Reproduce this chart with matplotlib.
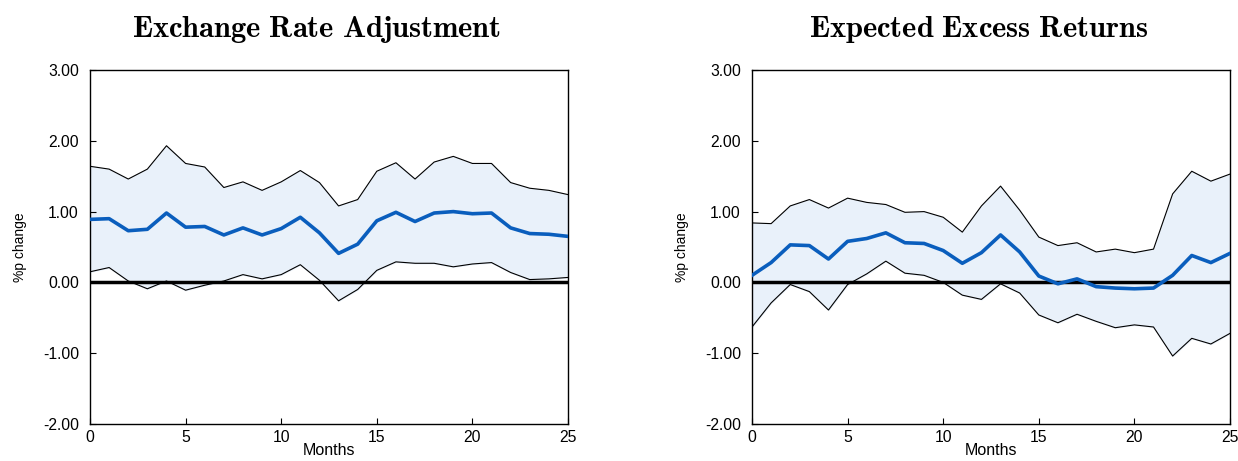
import numpy as np
import matplotlib.pyplot as plt

plt.rcParams['font.family'] = ['Liberation Sans', 'DejaVu Sans']
plt.rcParams['mathtext.fontset'] = 'cm'

months = np.arange(26)

# Exchange rate adjustment
er_mean = [0.89, 0.90, 0.73, 0.75, 0.98, 0.78, 0.79, 0.67, 0.77, 0.67, 0.76, 0.92, 0.70,
           0.41, 0.54, 0.87, 0.99, 0.86, 0.98, 1.00, 0.97, 0.98, 0.77, 0.69, 0.68, 0.65]
er_upper = [1.64, 1.60, 1.46, 1.60, 1.93, 1.68, 1.63, 1.34, 1.42, 1.30, 1.42, 1.58, 1.41,
            1.08, 1.17, 1.57, 1.69, 1.46, 1.70, 1.78, 1.68, 1.68, 1.41, 1.33, 1.30, 1.24]
er_lower = [0.15, 0.21, 0.02, -0.09, 0.02, -0.11, -0.04, 0.02, 0.11, 0.05, 0.11, 0.25, 0.03,
            -0.26, -0.10, 0.17, 0.29, 0.27, 0.27, 0.22, 0.26, 0.28, 0.14, 0.04, 0.05, 0.07]

# Expected excess returns
xr_mean = [0.10, 0.28, 0.53, 0.52, 0.33, 0.58, 0.62, 0.70, 0.56, 0.55, 0.45, 0.27, 0.42,
           0.67, 0.43, 0.09, -0.02, 0.05, -0.06, -0.08, -0.09, -0.08, 0.10, 0.38, 0.28, 0.41]
xr_upper = [0.84, 0.83, 1.08, 1.17, 1.05, 1.19, 1.13, 1.10, 0.99, 1.00, 0.92, 0.71, 1.08,
            1.36, 1.02, 0.64, 0.52, 0.56, 0.43, 0.47, 0.42, 0.47, 1.25, 1.57, 1.43, 1.53]
xr_lower = [-0.63, -0.29, -0.03, -0.13, -0.39, -0.03, 0.12, 0.30, 0.13, 0.10, 0.00, -0.18, -0.24,
            -0.02, -0.15, -0.46, -0.57, -0.45, -0.55, -0.64, -0.60, -0.63, -1.04, -0.79, -0.87, -0.72]

titles = [r'$\mathbf{Exchange\ Rate\ Adjustment}$', r'$\mathbf{Expected\ Excess\ Returns}$']
panels = [(er_mean, er_upper, er_lower), (xr_mean, xr_upper, xr_lower)]

fig = plt.figure(figsize=(12.38, 4.61), dpi=100)
lefts = [90/1238, 752/1238]
width = 478/1238
bottom = 1 - 424/461
height = 354/461

for left, title, (m, up, lo) in zip(lefts, titles, panels):
    ax = fig.add_axes([left, bottom, width, height])
    ax.fill_between(months, lo, up, color='#E9F1FA', zorder=1)
    ax.plot(months, up, color='black', lw=0.8, zorder=2)
    ax.plot(months, lo, color='black', lw=0.8, zorder=2)
    ax.axhline(0, color='black', lw=2.5, zorder=3)
    ax.plot(months, m, color='#0A5EBD', lw=2.6, zorder=4)
    ax.set_xlim(0, 25)
    ax.set_ylim(-2, 3)
    ax.set_xticks([0, 5, 10, 15, 20, 25])
    ax.set_yticks([-2, -1, 0, 1, 2, 3])
    ax.set_yticklabels(['%.2f' % v for v in [-2, -1, 0, 1, 2, 3]])
    ax.tick_params(direction='in', length=4, labelsize=11.3, pad=8)
    ax.tick_params(axis='x', pad=4)
    for s in ax.spines.values():
        s.set_linewidth(1.0)
    ax.set_xlabel('Months', fontsize=11.5, labelpad=-1)
    ax.set_ylabel('%p change', fontsize=10, labelpad=11)
    ax.set_title(title, fontsize=22, pad=24, x=0.474)

fig.savefig('out.png', dpi=100)
